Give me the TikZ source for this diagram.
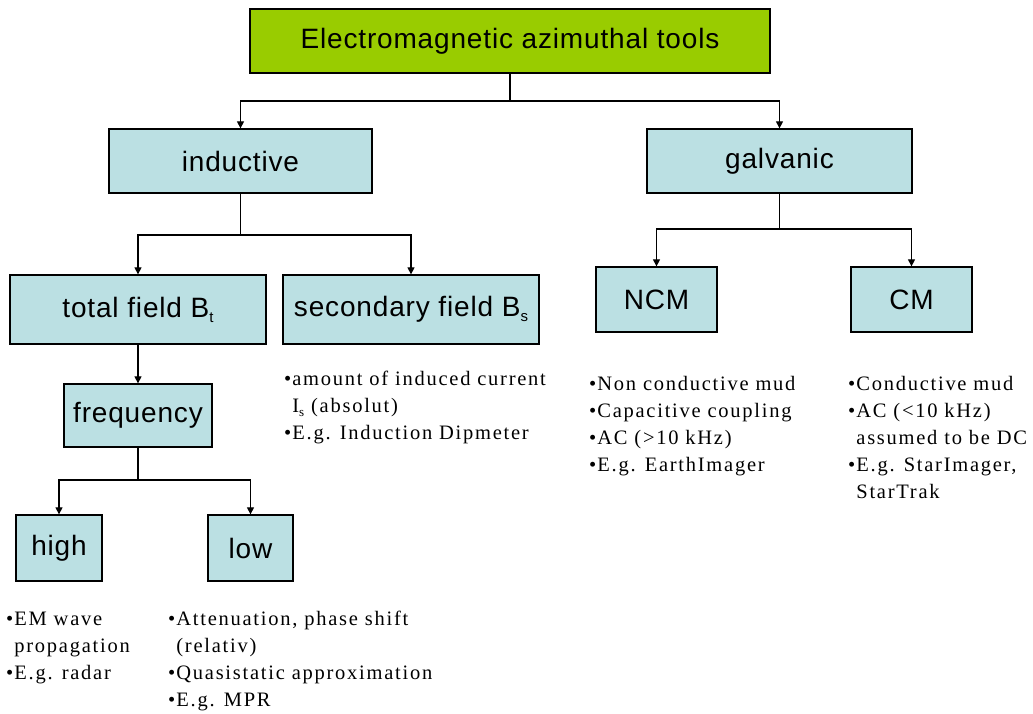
\documentclass[tikz,border=0pt]{standalone}
\usepackage{fontspec}
\setmainfont{Liberation Serif}
\newfontfamily\boxfont[LetterSpace=3]{Liberation Sans}
\newfontfamily\notefont[LetterSpace=8.5]{Liberation Serif}
\usetikzlibrary{arrows.meta}

\definecolor{rootgreen}{HTML}{99CC00}
\definecolor{boxblue}{HTML}{BBE0E3}

% bullet and hanging indent for the note lists
\newcommand\bul{\makebox[0.4em][l]{•}}
\newcommand\cont{\hspace*{0.4em}}
% small lowered index inside box labels and notes
\newcommand\boxsub[1]{\raisebox{-5pt}{\fontsize{15}{15}\selectfont #1}}
\newcommand\notesub[1]{\raisebox{-4pt}{\fontsize{13}{13}\selectfont #1}}

\tikzset{
  box/.style={draw=black, line width=1.3pt, fill=boxblue, inner sep=0pt,
    font=\boxfont\fontsize{28}{32}\selectfont},
  rootbox/.style={box, fill=rootgreen},
  link/.style={line width=1.2pt},
  conn/.style={link, -{Triangle[length=7pt,width=7pt]}},
  % placed at the baseline of the last line
  note/.style={anchor=base west, align=left, inner sep=0pt,
    font=\notefont\fontsize{20.5}{27}\selectfont},
}

\begin{document}
\begin{tikzpicture}[x=1pt, y=-1pt]
  \useasboundingbox[fill=white] (0,0) rectangle (1033,713);

  % boxes
  \node[rootbox, minimum width=520pt, minimum height=64pt] (root) at (510,41) {Electromagnetic azimuthal tools};
  \node[box, minimum width=263pt, minimum height=64pt] (ind) at (240.5,161) {inductive};
  \node[box, minimum width=265pt, minimum height=64pt] (gal) at (779.5,161) {galvanic};
  \node[box, minimum width=256pt, minimum height=69pt] (tot) at (138,309.5) {total field B\boxsub{t}};
  \node[box, minimum width=256pt, minimum height=69pt] (sec) at (411,309.5) {secondary field B\boxsub{s}};
  \node[box, minimum width=121pt, minimum height=65pt] (ncm) at (656.5,299.5) {NCM};
  \node[box, minimum width=121pt, minimum height=65pt] (cm) at (911.5,299.5) {CM};
  \node[box, minimum width=148pt, minimum height=63pt] (freq) at (138,415.5) {frequency};
  \node[box, minimum width=86pt, minimum height=66pt] (high) at (59,548) {high};
  \node[box, minimum width=85pt, minimum height=66pt] (low) at (250.5,548) {low};

  % branch points
  \coordinate (j1) at (510,101);
  \coordinate (j2) at (240.5,235);
  \coordinate (j3) at (779.5,229);
  \coordinate (j4) at (138,480);

  % connectors
  \draw[link] (root.south) -- (j1);
  \draw[conn] (j1) -| (ind.north);
  \draw[conn] (j1) -| (gal.north);
  \draw[link] (ind.south) -- (j2);
  \draw[conn] (j2) -| (tot.north);
  \draw[conn] (j2) -| (sec.north);
  \draw[link] (gal.south) -- (j3);
  \draw[conn] (j3) -| (ncm.north);
  \draw[conn] (j3) -| (cm.north);
  \draw[conn] (tot.south) -- (freq.north);
  \draw[link] (freq.south) -- (j4);
  \draw[conn] (j4) -| (high.north);
  \draw[conn] (j4) -| (low.north);

  % notes
  \node[note] (secnote) at (284,439) {\bul amount of induced current\\
    \cont I\notesub{s} (absolut)\\
    \bul E.g. Induction Dipmeter};
  \node[note] (ncmnote) at (589,471) {\bul Non conductive mud\\
    \bul Capacitive coupling\\
    \bul AC (>10 kHz)\\
    \bul E.g. EarthImager};
  \node[note] (cmnote) at (848,498) {\bul Conductive mud\\
    \bul AC (<10 kHz)\\
    \cont assumed to be DC\\
    \bul E.g. StarImager,\\
    \cont StarTrak};
  \node[note] (highnote) at (6,679) {\bul EM wave\\
    \cont propagation\\
    \bul E.g. radar};
  \node[note] (lownote) at (168,706) {\bul Attenuation, phase shift\\
    \cont (relativ)\\
    \bul Quasistatic approximation\\
    \bul E.g. MPR};
\end{tikzpicture}
\end{document}
